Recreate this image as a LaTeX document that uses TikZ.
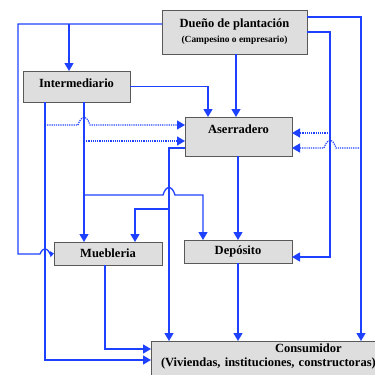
\documentclass[tikz,border=0pt]{standalone}
\usepackage{fontspec}
\setmainfont{Liberation Serif}
\usetikzlibrary{arrows.meta}
\definecolor{FlowBlue}{RGB}{30,64,255}
\colorlet{BoxFill}{black!13}
\colorlet{BoxBorder}{black!65}

\begin{document}
\begin{tikzpicture}[x=1pt, y=-1pt,
  box/.style={draw=BoxBorder, line width=0.9pt, fill=BoxFill, inner sep=0pt,
    outer sep=0pt, font=\fontsize{12.5}{14}\selectfont\bfseries},
  flow/.style={draw=FlowBlue, line width=1.3pt, -{Triangle[width=9pt,length=8pt]}},
  dflow/.style={flow, line width=1.2pt, densely dotted}]

\useasboundingbox (0,0) rectangle (375,375);
\clip (0,0) rectangle (375,375);

\node[box, minimum width=145pt, minimum height=44pt, align=center] (duenio) at (234.5,32)
  {Dueño de plantación\\[1pt]{\fontsize{9.4}{11}\selectfont(Campesino o empresario)}};
\node[box, minimum width=107pt, minimum height=31pt, text depth=7pt] (inter) at (76.5,86.5) {Intermediario};
\node[box, minimum width=107pt, minimum height=39pt, text depth=15pt] (aser) at (238.5,136.5) {Aserradero};
\node[box, minimum width=108pt, minimum height=23pt] (mueb) at (108,253.5) {Muebleria};
\node[box, minimum width=108pt, minimum height=23pt] (depo) at (238,251.5) {Depósito};
\node[box, anchor=north west, text width=240pt, align=left, inner xsep=10pt, inner ysep=3pt,
  text depth=30pt] (cons) at (151,341)
  {\hspace*{114pt}Consumidor\\(Viviendas, instituciones, constructoras)};

\coordinate (dtop) at ([yshift=8pt]duenio.west);

% salidas del dueño
\draw[flow, -{Triangle[width=6pt,length=4pt]}] (dtop) -| (18,254) -- (40,254)
  .. controls (43,247) and (47,247) .. (50,254) -- (mueb.west);
\draw[flow] (69,0 |- dtop) -- (69,0 |- inter.north);
\draw[flow] ([yshift=15pt]duenio.east) -| (361,0 |- cons.north);
\draw[flow] (duenio.east) -| (330,257) -- ([yshift=-5.5pt]depo.east);
\draw[flow] (236,0 |- duenio.south) -- (236,0 |- aser.north);

% salidas del intermediario
\draw[flow] (inter.east) -| (208,0 |- aser.north);
\draw[flow] (45,0 |- inter.south) |- ([yshift=-19pt]cons.north west);
\draw[flow] (84,0 |- inter.south) -- (84,0 |- mueb.north);
\draw[dflow] (45,125) -- (78,125) .. controls (81,115) and (87,115) .. (90,125)
  -- ([yshift=11.5pt]aser.west);
\draw[dflow] (84,141) -- ([yshift=-4.5pt]aser.west);
\draw[flow] (84,195) -- (163,195) .. controls (166,185) and (172,185) .. (175,195)
  -| (203,0 |- depo.north);

% salidas del aserradero
\draw[flow] ([yshift=-11.5pt]aser.west) -| (169,0 |- cons.north);
\draw[flow] (169,209) -| (135,0 |- mueb.north);
\draw[flow] (238,0 |- aser.south) -- (238,0 |- depo.north);

% muebleria y deposito
\draw[flow] (105,0 |- mueb.south) |- ([yshift=-8pt]cons.north west);
\draw[flow] (depo.south) -- (238,0 |- cons.north);

% retorno punteado
\draw[dflow] (330,133) -- ([yshift=3.5pt]aser.east);
\draw[dflow] (361,148) -- (336,148) .. controls (333,138) and (327,138) .. (324,148)
  -- ([yshift=-11.5pt]aser.east);

\end{tikzpicture}
\end{document}
